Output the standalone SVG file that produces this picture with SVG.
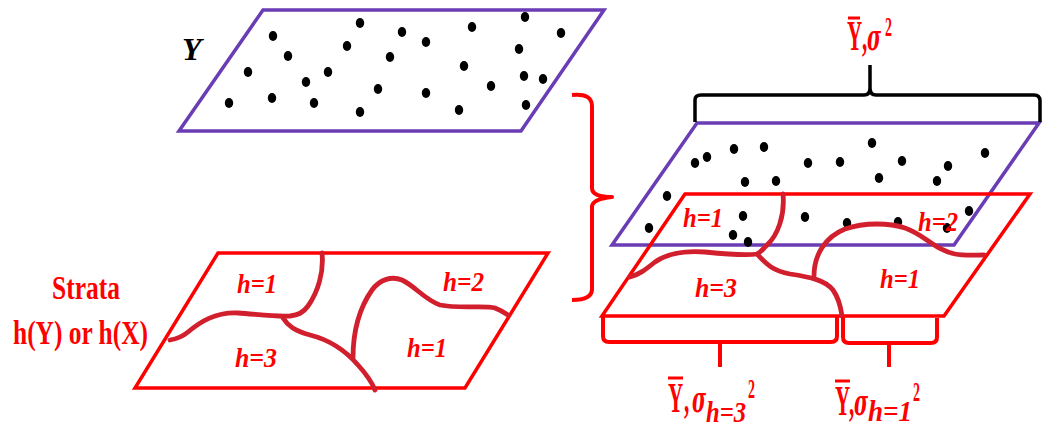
<svg xmlns="http://www.w3.org/2000/svg" width="1042" height="428" viewBox="0 0 1042 428">
<style>
.pur{fill:none;stroke:#6a3db5;stroke-width:3.5;stroke-linejoin:miter}
.red{fill:none;stroke:#ff0000;stroke-width:3.5;stroke-linejoin:miter}
.crv{fill:none;stroke:#d21f2e;stroke-width:4.8;stroke-linecap:round;stroke-linejoin:round}
.brk{fill:none;stroke:#ff0000;stroke-width:4;stroke-linejoin:round}
.blk{fill:none;stroke:#000;stroke-width:3.5;stroke-linejoin:round}
.dot ellipse{fill:#000}
.lbl{font-family:"Liberation Serif",serif;font-weight:bold;font-style:italic;fill:#ff0000}
.strata{font-family:"Liberation Serif",serif;font-weight:bold;fill:#ff0000;font-size:33px}
.math{font-family:"Liberation Serif",serif;font-weight:bold;fill:#ff0000}
.sig{font-family:"DejaVu Serif",serif;font-style:italic;font-weight:bold}
.bar{stroke:#ff0000;stroke-width:3}
</style>
<rect width="1042" height="428" fill="#ffffff"/>

<g id="population">
<polygon class="pur" points="263,10 604,10 521,131 179,131"/>
<g class="dot">
<ellipse cx="273" cy="36" rx="4.2" ry="5"/><ellipse cx="360" cy="23" rx="4.2" ry="5"/>
<ellipse cx="402" cy="32" rx="4.2" ry="5"/><ellipse cx="426" cy="42" rx="4.2" ry="5"/>
<ellipse cx="472" cy="27" rx="4.2" ry="5"/><ellipse cx="525" cy="17" rx="4.2" ry="5"/>
<ellipse cx="561" cy="33" rx="4.2" ry="5"/><ellipse cx="288" cy="56" rx="4.2" ry="5"/>
<ellipse cx="347" cy="46" rx="4.2" ry="5"/><ellipse cx="390" cy="57" rx="4.2" ry="5"/>
<ellipse cx="519" cy="49" rx="4.2" ry="5"/><ellipse cx="248" cy="72" rx="4.2" ry="5"/>
<ellipse cx="306" cy="82" rx="4.2" ry="5"/><ellipse cx="328" cy="72" rx="4.2" ry="5"/>
<ellipse cx="464" cy="66" rx="4.2" ry="5"/><ellipse cx="524" cy="76" rx="4.2" ry="5"/>
<ellipse cx="543" cy="79" rx="4.2" ry="5"/><ellipse cx="378" cy="89" rx="4.2" ry="5"/>
<ellipse cx="426" cy="93" rx="4.2" ry="5"/><ellipse cx="491" cy="86" rx="4.2" ry="5"/>
<ellipse cx="229" cy="103" rx="4.2" ry="5"/><ellipse cx="272" cy="98" rx="4.2" ry="5"/>
<ellipse cx="314" cy="103" rx="4.2" ry="5"/><ellipse cx="360" cy="112" rx="4.2" ry="5"/>
<ellipse cx="459" cy="110" rx="4.2" ry="5"/><ellipse cx="526" cy="105" rx="4.2" ry="5"/>
</g>
<text class="lbl" x="182" y="60" font-size="32" style="fill:#000">Y</text>
</g>

<g id="strata-left">
<polygon class="red" points="218,253 548,253 465,388 135,388"/>
<text class="strata" x="52" y="299" textLength="68" lengthAdjust="spacingAndGlyphs">Strata</text>
<text class="strata" x="13" y="344" textLength="135" lengthAdjust="spacingAndGlyphs">h(Y) or h(X)</text>
<text class="lbl" x="237" y="293" font-size="28" textLength="40" lengthAdjust="spacingAndGlyphs">h=1</text>
<text class="lbl" x="235" y="367" font-size="28" textLength="42" lengthAdjust="spacingAndGlyphs">h=3</text>
<text class="lbl" x="443" y="291" font-size="28" textLength="41" lengthAdjust="spacingAndGlyphs">h=2</text>
<text class="lbl" x="407" y="357" font-size="28" textLength="40" lengthAdjust="spacingAndGlyphs">h=1</text>
</g>

<g id="combined">
<polygon class="pur" points="697,123 1039,123 954,245 612,245"/>
<g class="dot">
<ellipse cx="695" cy="163" rx="4.2" ry="5"/><ellipse cx="707" cy="157" rx="4.2" ry="5"/>
<ellipse cx="734" cy="149" rx="4.2" ry="5"/><ellipse cx="764" cy="147" rx="4.2" ry="5"/>
<ellipse cx="808" cy="163" rx="4.2" ry="5"/><ellipse cx="840" cy="162" rx="4.2" ry="5"/>
<ellipse cx="872" cy="143" rx="4.2" ry="5"/><ellipse cx="902" cy="161" rx="4.2" ry="5"/>
<ellipse cx="948" cy="166" rx="4.2" ry="5"/><ellipse cx="985" cy="153" rx="4.2" ry="5"/>
<ellipse cx="745" cy="182" rx="4.2" ry="5"/><ellipse cx="776" cy="181" rx="4.2" ry="5"/>
<ellipse cx="879" cy="178" rx="4.2" ry="5"/><ellipse cx="937" cy="181" rx="4.2" ry="5"/>
<ellipse cx="667" cy="196" rx="4.2" ry="5"/><ellipse cx="649" cy="228" rx="4.2" ry="5"/>
<ellipse cx="743" cy="216" rx="4.2" ry="5"/><ellipse cx="733" cy="235" rx="4.2" ry="5"/>
<ellipse cx="748" cy="242" rx="4.2" ry="5"/><ellipse cx="805" cy="217" rx="4.2" ry="5"/>
<ellipse cx="847" cy="223" rx="4.2" ry="5"/><ellipse cx="898" cy="222" rx="4.2" ry="5"/>
<ellipse cx="947" cy="228" rx="4.2" ry="5"/><ellipse cx="969" cy="211" rx="4.2" ry="5"/>
</g>
<polygon class="red" points="685,194 1030,194 944,316 602,316"/>
<text class="lbl" x="683" y="227" font-size="28" textLength="40" lengthAdjust="spacingAndGlyphs">h=1</text>
<text class="lbl" x="695" y="297" font-size="28" textLength="42" lengthAdjust="spacingAndGlyphs">h=3</text>
<text class="lbl" x="918" y="231" font-size="28" textLength="40" lengthAdjust="spacingAndGlyphs">h=2</text>
<text class="lbl" x="880" y="288" font-size="28" textLength="40" lengthAdjust="spacingAndGlyphs">h=1</text>
</g>

<g id="labels">
<g transform="translate(847,50) scale(0.5,1)">
<text class="math" font-size="42"><tspan x="0" y="0">Y</tspan><tspan x="30" y="0">,</tspan><tspan class="sig" x="40" y="0" font-size="38">σ</tspan><tspan x="76" y="-14" font-size="28">2</tspan></text>
</g>
<line class="bar" x1="848" y1="18" x2="860" y2="18"/>

<g transform="translate(668,412) scale(0.5,1)">
<text class="math" font-size="42"><tspan x="0" y="0">Y</tspan><tspan x="32" y="0">,</tspan><tspan class="sig" x="48" y="0" font-size="38">σ</tspan><tspan x="76" y="10" font-size="30" font-style="italic" textLength="80" lengthAdjust="spacingAndGlyphs">h=3</tspan><tspan x="160" y="-14" font-size="28">2</tspan></text>
</g>
<line class="bar" x1="668" y1="378" x2="683" y2="378"/>

<g transform="translate(835,415) scale(0.5,1)">
<text class="math" font-size="42"><tspan x="0" y="0">Y</tspan><tspan x="28" y="0">,</tspan><tspan class="sig" x="38" y="0" font-size="38">σ</tspan><tspan x="66" y="6" font-size="30" font-style="italic" textLength="88" lengthAdjust="spacingAndGlyphs">h=1</tspan><tspan x="156" y="-14" font-size="28">2</tspan></text>
</g>
<line class="bar" x1="835" y1="381" x2="850" y2="381"/>
</g>

<g id="connectors">
<path class="crv" d="M322,253 C324,272 318,292 308,306 C303,313 298,315 290,316 C275,317 255,314 238,313 C215,312 200,322 188,332 C182,337 176,339 170,340"/>
<path class="crv" d="M283,318 C288,326 295,331 310,335 C330,340 345,350 358,365 C368,376 373,385 375,390"/>
<path class="crv" d="M353,358 C353,335 358,310 372,290 C380,279 392,276 402,280 C415,286 425,300 440,305 C460,309 485,305 495,308 C500,310 505,313 508,315"/>
<path class="crv" d="M783,194 C785,215 778,235 767,245 C762,250 760,253 757,254 C745,256 725,254 705,252 C680,250 665,255 655,262 C645,270 640,274 630,277"/>
<path class="crv" d="M757,254 C765,262 770,270 790,274 C810,277 825,280 833,290 C840,300 841,310 842,316"/>
<path class="crv" d="M814,276 C814,255 825,237 845,229 C865,222 890,223 905,228 C925,235 935,250 955,254 C965,256 975,255 984,255"/>
<path class="brk" d="M572,95 Q592,93 592,106 L592,188 Q592,197 612,197 Q592,199 592,207 L592,289 Q592,300 572,300"/>
<path class="blk" d="M695,122 L695,100 Q695,95 701,95 L864,95 Q870,95 870,88 L870,65 M870,88 Q870,95 876,95 L1034,95 Q1040,95 1040,101 L1040,122"/>
<path class="brk" d="M603,317 L603,336 Q603,342 609,342 L831,342 Q837,342 837,336 L837,317 M720,342 L720,367"/>
<path class="brk" d="M843,317 L843,337 Q843,343 849,343 L931,343 Q937,343 937,337 L937,318 M889,343 L889,367"/>
</g>
</svg>
